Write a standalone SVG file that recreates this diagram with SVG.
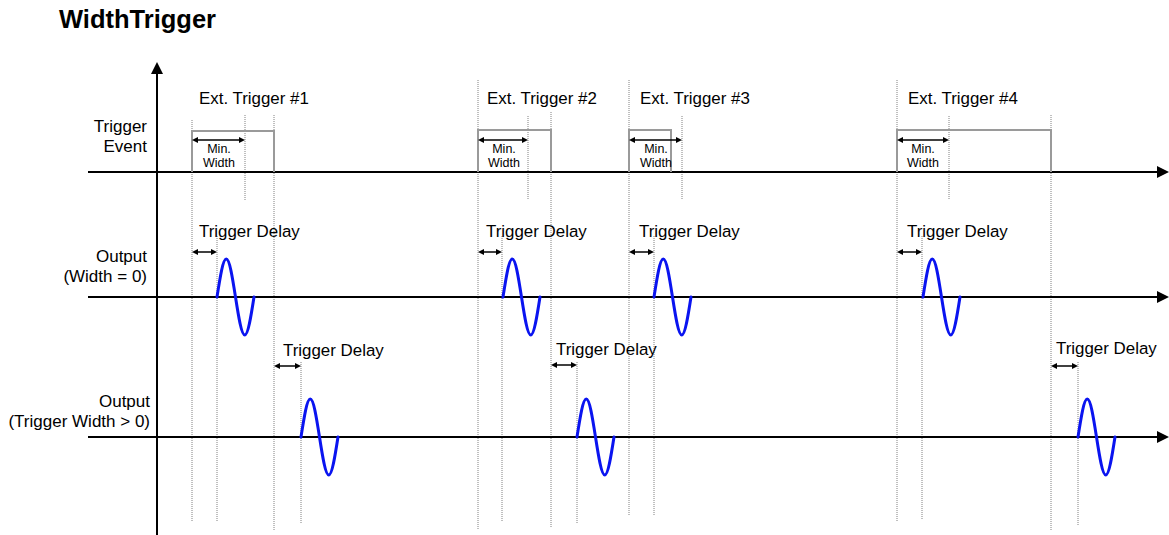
<svg xmlns="http://www.w3.org/2000/svg" xmlns:xlink="http://www.w3.org/1999/xlink" width="1169" height="535" viewBox="0 0 1169 535">
  <style>
    text { font-family: "Liberation Sans", Arial, sans-serif; fill: #000; }
    .title { font-size: 25.5px; font-weight: bold; }
    .lbl { font-size: 16.9px; }
    .row { font-size: 17px; text-anchor: end; }
    .small { font-size: 12.5px; text-anchor: middle; }
    .axis { stroke: #000; stroke-width: 2; fill: none; }
    .guide { stroke: #808080; stroke-width: 1; stroke-dasharray: 1 1; fill: none; }
    .pulse { stroke: #9a9a9a; stroke-width: 2; fill: none; }
    .dim { stroke: #000; stroke-width: 1.5; fill: none; marker-start: url(#tip); marker-end: url(#tip); }
    .sig { stroke: #0a14f0; stroke-width: 3; fill: none; stroke-linecap: round; }
  </style>
  <defs>
    <marker id="tip" viewBox="0 0 10 10" refX="6.7" refY="5" markerWidth="6" markerHeight="6" markerUnits="userSpaceOnUse" orient="auto-start-reverse">
      <path d="M0,0 L10,5 L0,10 z" fill="#000"/>
    </marker>
    <marker id="axisHead" viewBox="0 0 10 10" refX="5" refY="5" markerWidth="12" markerHeight="12" markerUnits="userSpaceOnUse" orient="auto">
      <path d="M0,0 L10,5 L0,10 z" fill="#000"/>
    </marker>
    <!-- one period of a sine burst, period 37, amplitude 38 -->
    <path id="wave" class="sig" d="M0,0 C3.02,-19.47 5.9,-38 9.25,-38 C12.6,-38 15.48,-19.47 18.5,0 C21.52,19.47 24.4,38 27.75,38 C31.1,38 33.98,19.47 37,0"/>
  </defs>

  <text class="title" x="59" y="28">WidthTrigger</text>

  <!-- timing guides -->
  <g id="guides">
    <!-- trigger 1 -->
    <line class="guide" x1="192" y1="120" x2="192" y2="521"/>
    <line class="guide" x1="245" y1="115" x2="245" y2="200"/>
    <line class="guide" x1="274" y1="115" x2="274" y2="530"/>
    <line class="guide" x1="217" y1="236" x2="217" y2="522"/>
    <line class="guide" x1="301" y1="362" x2="301" y2="524"/>
    <!-- trigger 2 -->
    <line class="guide" x1="478" y1="80" x2="478" y2="530"/>
    <line class="guide" x1="528" y1="116" x2="528" y2="200"/>
    <line class="guide" x1="551" y1="112" x2="551" y2="527"/>
    <line class="guide" x1="502" y1="236" x2="502" y2="522"/>
    <line class="guide" x1="577" y1="362" x2="577" y2="523"/>
    <!-- trigger 3 -->
    <line class="guide" x1="629" y1="80" x2="629" y2="515"/>
    <line class="guide" x1="682" y1="116" x2="682" y2="200"/>
    <line class="guide" x1="654" y1="236" x2="654" y2="515"/>
    <!-- trigger 4 -->
    <line class="guide" x1="897" y1="80" x2="897" y2="522"/>
    <line class="guide" x1="949" y1="116" x2="949" y2="200"/>
    <line class="guide" x1="1051" y1="115" x2="1051" y2="530"/>
    <line class="guide" x1="922" y1="236" x2="922" y2="520"/>
    <line class="guide" x1="1078" y1="362" x2="1078" y2="525"/>
  </g>

  <!-- axes -->
  <g id="axes">
    <line class="axis" x1="157" y1="535" x2="157" y2="68" marker-end="url(#axisHead)"/>
    <line class="axis" x1="88" y1="172" x2="1163" y2="172" marker-end="url(#axisHead)"/>
    <line class="axis" x1="88" y1="297" x2="1163" y2="297" marker-end="url(#axisHead)"/>
    <line class="axis" x1="88" y1="437" x2="1163" y2="437" marker-end="url(#axisHead)"/>
  </g>

  <!-- row labels -->
  <g id="row-labels">
    <text class="row" x="147" y="132">Trigger</text>
    <text class="row" x="147" y="152">Event</text>
    <text class="row" x="147" y="262">Output</text>
    <text class="row" x="147" y="282">(Width = 0)</text>
    <text class="row" x="150" y="407">Output</text>
    <text class="row" x="150" y="427">(Trigger Width &gt; 0)</text>
  </g>

  <!-- trigger events -->
  <g id="trigger1">
    <text class="lbl" x="199" y="104">Ext. Trigger #1</text>
    <path class="pulse" d="M192,172 V131 H274 V172"/>
    <line class="dim" x1="194" y1="140" x2="243" y2="140"/>
    <text class="small" x="219" y="153">Min.</text>
    <text class="small" x="219" y="167">Width</text>
  </g>
  <g id="trigger2">
    <text class="lbl" x="487" y="104">Ext. Trigger #2</text>
    <path class="pulse" d="M478,172 V130 H551 V172"/>
    <line class="dim" x1="480" y1="140" x2="526" y2="140"/>
    <text class="small" x="504" y="153">Min.</text>
    <text class="small" x="504" y="167">Width</text>
  </g>
  <g id="trigger3">
    <text class="lbl" x="640" y="104">Ext. Trigger #3</text>
    <path class="pulse" d="M629,172 V130 H671 V172"/>
    <line class="dim" x1="631" y1="140" x2="680" y2="140"/>
    <text class="small" x="656" y="153">Min.</text>
    <text class="small" x="656" y="167">Width</text>
  </g>
  <g id="trigger4">
    <text class="lbl" x="908" y="104">Ext. Trigger #4</text>
    <path class="pulse" d="M897,172 V130 H1051 V172"/>
    <line class="dim" x1="899" y1="140" x2="947" y2="140"/>
    <text class="small" x="923" y="153">Min.</text>
    <text class="small" x="923" y="167">Width</text>
  </g>

  <!-- output with width = 0 -->
  <g id="output-width0">
    <text class="lbl" x="199" y="237">Trigger Delay</text>
    <line class="dim" x1="194" y1="252" x2="215" y2="252"/>
    <use xlink:href="#wave" x="217" y="297"/>

    <text class="lbl" x="486" y="237">Trigger Delay</text>
    <line class="dim" x1="480" y1="252" x2="500" y2="252"/>
    <use xlink:href="#wave" x="503" y="297"/>

    <text class="lbl" x="639" y="237">Trigger Delay</text>
    <line class="dim" x1="631" y1="252" x2="652" y2="252"/>
    <use xlink:href="#wave" x="654" y="297"/>

    <text class="lbl" x="907" y="237">Trigger Delay</text>
    <line class="dim" x1="899" y1="252" x2="920" y2="252"/>
    <use xlink:href="#wave" x="923" y="297"/>
  </g>

  <!-- output with trigger width > 0 -->
  <g id="output-width">
    <text class="lbl" x="283" y="356">Trigger Delay</text>
    <line class="dim" x1="276" y1="366" x2="299" y2="366"/>
    <use xlink:href="#wave" x="301" y="437"/>

    <text class="lbl" x="556" y="355">Trigger Delay</text>
    <line class="dim" x1="553" y1="365" x2="575" y2="365"/>
    <use xlink:href="#wave" x="577" y="437"/>

    <text class="lbl" x="1056" y="354">Trigger Delay</text>
    <line class="dim" x1="1053" y1="366" x2="1076" y2="366"/>
    <use xlink:href="#wave" x="1078" y="437"/>
  </g>
</svg>
